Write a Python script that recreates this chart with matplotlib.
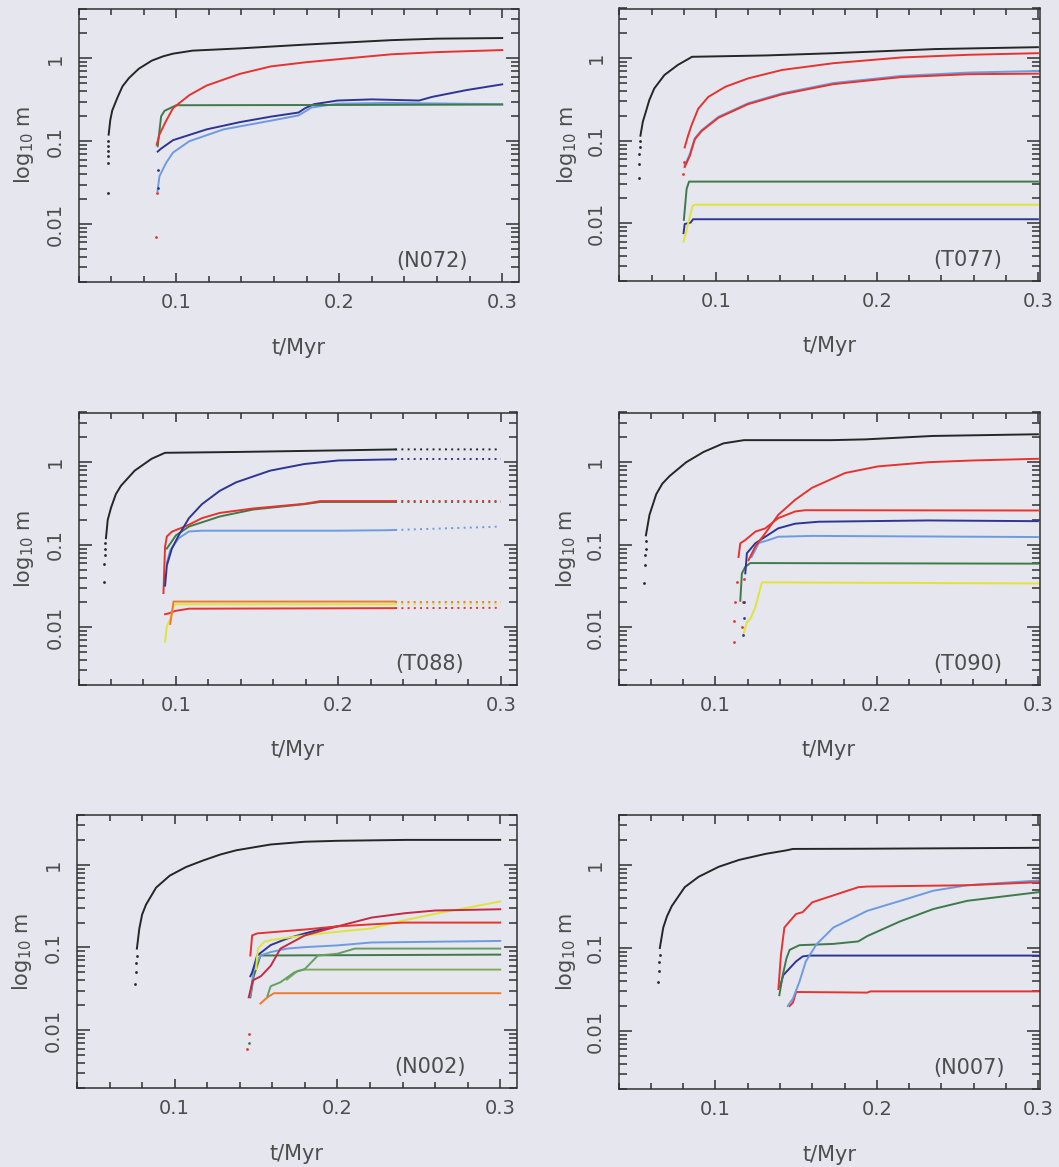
import numpy as np
import matplotlib
matplotlib.use("Agg")
import matplotlib.pyplot as plt
from matplotlib.ticker import FixedLocator, MultipleLocator, LogLocator, NullFormatter

# Fragment masses against time, (t [Myr], m) pairs for each curve.

# ---- N072 ----
n072_black_dots = [(0.0580, 0.024), (0.0582, 0.055), (0.0583, 0.066), (0.0583, 0.076),
                   (0.0584, 0.087), (0.0584, 0.10)]
n072_black = [(0.0585, 0.12), (0.0595, 0.18), (0.0607, 0.235), (0.064, 0.34), (0.067, 0.46),
              (0.071, 0.58), (0.077, 0.75), (0.085, 0.94), (0.092, 1.06), (0.098, 1.14),
              (0.11, 1.24), (0.139, 1.32), (0.18, 1.47), (0.232, 1.66), (0.26, 1.73),
              (0.30, 1.76)]
n072_red_dots = [(0.0875, 0.007), (0.088, 0.024)]
n072_red = [(0.088, 0.091), (0.0897, 0.121), (0.0938, 0.177), (0.098, 0.25), (0.1, 0.27),
            (0.108, 0.36), (0.1186, 0.47), (0.139, 0.65), (0.158, 0.80), (0.18, 0.9),
            (0.2, 0.98), (0.232, 1.12), (0.26, 1.19), (0.30, 1.26)]
n072_green = [(0.0886, 0.087), (0.0907, 0.20), (0.0928, 0.233), (0.1, 0.272), (0.2, 0.274),
              (0.30, 0.277)]
n072_navy_dots = [(0.0885, 0.027), (0.0885, 0.045)]
n072_navy = [(0.0886, 0.075), (0.0905, 0.081), (0.098, 0.103), (0.1186, 0.139), (0.139, 0.17),
             (0.158, 0.198), (0.175, 0.222), (0.179, 0.25), (0.1845, 0.28), (0.199, 0.31),
             (0.22, 0.32), (0.249, 0.31), (0.257, 0.343), (0.278, 0.414), (0.30, 0.486)]
n072_sky = [(0.0885, 0.025), (0.0897, 0.038), (0.0938, 0.055), (0.098, 0.073), (0.108, 0.10),
            (0.129, 0.139), (0.16, 0.18), (0.175, 0.205), (0.183, 0.255), (0.199, 0.284),
            (0.23, 0.29), (0.30, 0.28)]

# ---- T077 ----
t077_black_dots = [(0.052, 0.035), (0.052, 0.053), (0.0523, 0.07), (0.0525, 0.085),
                   (0.0527, 0.10)]
t077_black = [(0.053, 0.115), (0.0545, 0.17), (0.0563, 0.222), (0.0585, 0.31), (0.0616, 0.43),
              (0.0679, 0.625), (0.0763, 0.83), (0.0836, 1.0), (0.085, 1.04), (0.131, 1.08),
              (0.173, 1.15), (0.236, 1.29), (0.30, 1.36)]
t077_red_dots = [(0.0795, 0.04), (0.080, 0.055)]
t077_red = [(0.0805, 0.083), (0.0826, 0.115), (0.0847, 0.153), (0.0889, 0.244), (0.0952, 0.34),
            (0.1057, 0.45), (0.12, 0.57), (0.141, 0.72), (0.173, 0.87), (0.215, 1.02),
            (0.257, 1.1), (0.30, 1.15)]
t077_sky = [(0.0805, 0.05), (0.0836, 0.068), (0.0868, 0.107), (0.091, 0.134), (0.1015, 0.195),
            (0.12, 0.285), (0.141, 0.375), (0.173, 0.50), (0.215, 0.61), (0.257, 0.67),
            (0.30, 0.70)]
t077_red2 = [(0.0805, 0.048), (0.0836, 0.065), (0.0868, 0.104), (0.091, 0.131), (0.1015, 0.19),
             (0.12, 0.278), (0.141, 0.365), (0.173, 0.485), (0.215, 0.59), (0.257, 0.64),
             (0.30, 0.65)]
t077_green = [(0.080, 0.011), (0.0817, 0.026), (0.0832, 0.032), (0.30, 0.032)]
t077_yellow = [(0.0798, 0.006), (0.0812, 0.0076), (0.0832, 0.011), (0.0853, 0.016),
               (0.0868, 0.0168), (0.30, 0.0168)]
t077_navy = [(0.0798, 0.0076), (0.0805, 0.0098), (0.0842, 0.0102), (0.0857, 0.0112),
             (0.30, 0.0112)]

# ---- T088 ----
t088_black_dots = [(0.0558, 0.035), (0.0558, 0.059), (0.0562, 0.075), (0.0564, 0.09),
                   (0.0566, 0.105)]
t088_black = [(0.0569, 0.12), (0.058, 0.2), (0.060, 0.28), (0.063, 0.41), (0.0662, 0.52),
              (0.0746, 0.79), (0.085, 1.1), (0.0933, 1.3), (0.137, 1.33), (0.2, 1.39),
              (0.237, 1.43), (0.30, 1.43)]
t088_navy = [(0.0933, 0.032), (0.0944, 0.056), (0.0975, 0.09), (0.1017, 0.13), (0.108, 0.21),
             (0.116, 0.31), (0.127, 0.45), (0.137, 0.57), (0.158, 0.79), (0.179, 0.95),
             (0.2, 1.05), (0.231, 1.08), (0.30, 1.08)]
t088_red = [(0.0923, 0.026), (0.0933, 0.095), (0.0944, 0.126), (0.0975, 0.144), (0.104, 0.162),
            (0.108, 0.175), (0.116, 0.21), (0.127, 0.243), (0.1475, 0.275), (0.179, 0.313),
            (0.189, 0.338), (0.30, 0.338)]
t088_green = [(0.0944, 0.09), (0.1, 0.13), (0.108, 0.166), (0.127, 0.22), (0.1475, 0.267),
              (0.179, 0.31), (0.189, 0.33), (0.30, 0.33)]
t088_sky = [(0.0944, 0.06), (0.0965, 0.086), (0.1017, 0.12), (0.108, 0.145), (0.116, 0.148),
            (0.2, 0.148), (0.23, 0.15), (0.30, 0.166)]
t088_orange = [(0.0965, 0.011), (0.0985, 0.0205), (0.30, 0.0205)]
t088_yellow = [(0.0933, 0.0067), (0.0944, 0.0103), (0.0965, 0.0125), (0.0985, 0.018),
               (0.1, 0.019), (0.30, 0.019)]
t088_red2 = [(0.0933, 0.0144), (0.0954, 0.0147), (0.0996, 0.0158), (0.108, 0.0168),
             (0.30, 0.0172)]

# ---- T090 ----
t090_black_dots = [(0.056, 0.034), (0.0566, 0.057), (0.0567, 0.075), (0.0568, 0.09),
                   (0.0569, 0.11)]
t090_black = [(0.057, 0.13), (0.0592, 0.23), (0.0634, 0.41), (0.0672, 0.55), (0.0717, 0.68),
              (0.082, 1.0), (0.0927, 1.33), (0.105, 1.69), (0.1178, 1.85), (0.172, 1.85),
              (0.193, 1.89), (0.235, 2.08), (0.30, 2.18)]
t090_red_dots = [(0.1165, 0.010), (0.1172, 0.02), (0.118, 0.038)]
t090_red = [(0.1206, 0.065), (0.1248, 0.095), (0.131, 0.138), (0.139, 0.23), (0.1495, 0.35),
            (0.16, 0.49), (0.1805, 0.74), (0.201, 0.89), (0.232, 1.0), (0.26, 1.05),
            (0.30, 1.1)]
t090_red2_dots = [(0.1113, 0.0066), (0.1118, 0.012), (0.1125, 0.02), (0.1132, 0.035)]
t090_red2 = [(0.1144, 0.071), (0.1155, 0.104), (0.1186, 0.114), (0.1248, 0.144), (0.131, 0.158),
             (0.139, 0.21), (0.1495, 0.253), (0.1557, 0.262), (0.30, 0.26)]
t090_navy_dots = [(0.117, 0.008), (0.1175, 0.013), (0.118, 0.02)]
t090_navy = [(0.1186, 0.045), (0.1196, 0.079), (0.1248, 0.104), (0.131, 0.125), (0.139, 0.158),
             (0.1495, 0.18), (0.164, 0.19), (0.232, 0.197), (0.30, 0.193)]
t090_sky = [(0.1225, 0.071), (0.127, 0.105), (0.133, 0.114), (0.139, 0.125), (0.16, 0.128),
            (0.30, 0.124)]
t090_green = [(0.1155, 0.021), (0.1165, 0.045), (0.1186, 0.054), (0.1217, 0.06), (0.30, 0.059)]
t090_yellow = [(0.1175, 0.0083), (0.1196, 0.0115), (0.1217, 0.0126), (0.1248, 0.0175),
               (0.1289, 0.035), (0.30, 0.034)]

# ---- N002 ----
n002_black_dots = [(0.0758, 0.036), (0.0762, 0.05), (0.0764, 0.065), (0.0766, 0.08)]
n002_black = [(0.0768, 0.097), (0.0783, 0.17), (0.080, 0.25), (0.0824, 0.33), (0.0886, 0.53),
              (0.097, 0.74), (0.107, 0.94), (0.1176, 1.13), (0.128, 1.33), (0.138, 1.5),
              (0.159, 1.76), (0.18, 1.9), (0.2, 1.95), (0.242, 2.0), (0.30, 2.0)]
n002_red_dots = [(0.1445, 0.006), (0.1455, 0.009)]
n002_red = [(0.1465, 0.08), (0.1476, 0.14), (0.1507, 0.148), (0.18, 0.165), (0.2, 0.18),
            (0.22, 0.19), (0.24, 0.2), (0.30, 0.2)]
n002_crimson = [(0.1455, 0.025), (0.148, 0.04), (0.153, 0.045), (0.159, 0.06), (0.165, 0.097),
                (0.18, 0.14), (0.2, 0.18), (0.221, 0.23), (0.2417, 0.26), (0.26, 0.28),
                (0.30, 0.29)]
n002_yellow = [(0.150, 0.055), (0.1507, 0.08), (0.1512, 0.097), (0.153, 0.106), (0.155, 0.117),
               (0.159, 0.123), (0.18, 0.14), (0.2, 0.155), (0.221, 0.17), (0.2375, 0.206),
               (0.262, 0.26), (0.30, 0.36)]
n002_navy = [(0.1465, 0.045), (0.1476, 0.05), (0.1507, 0.08), (0.159, 0.107), (0.169, 0.128),
             (0.18, 0.148), (0.192, 0.17), (0.2, 0.18)]
n002_sky = [(0.1465, 0.026), (0.1486, 0.055), (0.1527, 0.08), (0.159, 0.088), (0.169, 0.097),
            (0.18, 0.101), (0.2, 0.106), (0.221, 0.115), (0.30, 0.12)]
n002_green_dots = [(0.1455, 0.007)]
n002_green = [(0.1465, 0.025), (0.1486, 0.045), (0.1527, 0.08), (0.30, 0.082)]
n002_green2 = [(0.157, 0.026), (0.159, 0.034), (0.165, 0.038), (0.1735, 0.05), (0.18, 0.055),
               (0.188, 0.08), (0.2, 0.084), (0.2107, 0.097), (0.30, 0.097)]
n002_olive = [(0.169, 0.041), (0.1755, 0.052), (0.18, 0.054), (0.30, 0.054)]
n002_orange = [(0.1527, 0.021), (0.157, 0.025), (0.161, 0.028), (0.30, 0.028)]

# ---- N007 ----
n007_black_dots = [(0.0646, 0.039), (0.065, 0.053), (0.0652, 0.068), (0.0654, 0.083)]
n007_black = [(0.0656, 0.1), (0.0677, 0.176), (0.070, 0.24), (0.073, 0.32), (0.081, 0.54),
              (0.0896, 0.72), (0.102, 0.95), (0.1146, 1.15), (0.131, 1.36), (0.144, 1.5),
              (0.148, 1.56), (0.194, 1.57), (0.30, 1.61)]
n007_red = [(0.139, 0.032), (0.1406, 0.083), (0.1427, 0.176), (0.146, 0.21), (0.15, 0.257),
            (0.154, 0.27), (0.16, 0.355), (0.173, 0.43), (0.1885, 0.54), (0.194, 0.55),
            (0.256, 0.57), (0.30, 0.62)]
n007_sky = [(0.1448, 0.02), (0.148, 0.0245), (0.152, 0.039), (0.156, 0.069), (0.1625, 0.11),
            (0.173, 0.176), (0.194, 0.28), (0.2146, 0.37), (0.235, 0.49), (0.256, 0.57),
            (0.30, 0.65)]
n007_green = [(0.1396, 0.027), (0.1417, 0.047), (0.144, 0.075), (0.146, 0.095), (0.152, 0.108),
              (0.173, 0.112), (0.1885, 0.12), (0.194, 0.139), (0.2146, 0.21), (0.235, 0.295),
              (0.256, 0.37), (0.30, 0.47)]
n007_navy = [(0.14, 0.034), (0.142, 0.047), (0.146, 0.057), (0.15, 0.069), (0.154, 0.079),
             (0.158, 0.081), (0.30, 0.081)]
n007_red2 = [(0.146, 0.02), (0.148, 0.022), (0.15, 0.0295), (0.194, 0.029), (0.196, 0.03),
             (0.30, 0.03)]

BLACK = "#262626"
RED = "#e5332f"
CRIMSON = "#c42a44"
GREEN = "#3f7a4a"
LGREEN = "#64a062"
OLIVE = "#86aa5c"
NAVY = "#2f3592"
SKY = "#6e9be0"
YELLOW = "#e0e43a"
ORANGE = "#f07a2a"
PAPER = "#e5e6ee"
INK = "#4d4d4d"
FRAME = "#303030"

# name, axes box in pixels (left, top, right, bottom), upper t limit, curves, loose points
PANELS = [
    ("(N072)", (78.5, 8.5, 518.5, 282), 0.31,
     [(n072_sky, SKY), (n072_navy, NAVY), (n072_green, GREEN), (n072_red, RED),
      (n072_black, BLACK)],
     [(n072_red_dots, RED), (n072_navy_dots, NAVY), (n072_black_dots, BLACK)]),
    ("(T077)", (619.5, 8.5, 1039.5, 281), 0.301,
     [(t077_navy, NAVY), (t077_yellow, YELLOW), (t077_green, GREEN), (t077_sky, SKY),
      (t077_red2, RED), (t077_red, RED), (t077_black, BLACK)],
     [(t077_red_dots, RED), (t077_black_dots, BLACK)]),
    ("(T088)", (78.5, 412.5, 517, 685), 0.31,
     [(t088_red2, RED), (t088_yellow, YELLOW), (t088_orange, ORANGE), (t088_sky, SKY),
      (t088_green, GREEN), (t088_red, RED), (t088_navy, NAVY), (t088_black, BLACK)],
     [(t088_black_dots, BLACK)]),
    ("(T090)", (618.5, 412.5, 1039.5, 685), 0.301,
     [(t090_yellow, YELLOW), (t090_green, GREEN), (t090_sky, SKY), (t090_navy, NAVY),
      (t090_red2, RED), (t090_red, RED), (t090_black, BLACK)],
     [(t090_red_dots, RED), (t090_red2_dots, RED), (t090_navy_dots, NAVY),
      (t090_black_dots, BLACK)]),
    ("(N002)", (77, 815, 516.5, 1088), 0.31,
     [(n002_orange, ORANGE), (n002_olive, OLIVE), (n002_green, GREEN), (n002_green2, LGREEN),
      (n002_sky, SKY), (n002_navy, NAVY), (n002_yellow, YELLOW), (n002_crimson, CRIMSON),
      (n002_red, RED), (n002_black, BLACK)],
     [(n002_red_dots, RED), (n002_green_dots, GREEN), (n002_black_dots, BLACK)]),
    ("(N007)", (618.5, 815, 1040, 1089), 0.301,
     [(n007_red2, RED), (n007_navy, NAVY), (n007_green, GREEN), (n007_sky, SKY),
      (n007_red, RED), (n007_black, BLACK)],
     [(n007_black_dots, BLACK)]),
]

# in T088 the output gets sparse after this time, so the tails are drawn dotted
T088_SPARSE = 0.235

W, H = 1059, 1167


def split_curve(t, m, t0):
    """Cut a curve at t0 (interpolating in log m) into a head and a tail."""
    m0 = 10 ** np.interp(t0, t, np.log10(m))
    head = t <= t0
    return (np.append(t[head], t0), np.append(m[head], m0),
            np.insert(t[~head], 0, t0), np.insert(m[~head], 0, m0))


def plot_panel(ax, name, tmax, curves, dots):
    ax.set_yscale("log")
    for pts, colour in curves:
        t, m = np.array(pts).T
        if name == "(T088)" and t[-1] > T088_SPARSE:
            t1, m1, t2, m2 = split_curve(t, m, T088_SPARSE)
            ax.plot(t1, m1, color=colour, lw=1.4, solid_joinstyle="round")
            ax.plot(t2, m2, color=colour, lw=1.4, ls=(0, (1, 2.2)))
        else:
            ax.plot(t, m, color=colour, lw=1.4, solid_joinstyle="round")
    for pts, colour in dots:
        t, m = np.array(pts).T
        ax.plot(t, m, ls="none", marker="o", ms=2.0, mew=0, color=colour)

    ax.set_xlim(0.04, tmax)
    ax.set_ylim(0.002, 4.0)
    ax.set_facecolor(PAPER)

    ax.xaxis.set_major_locator(FixedLocator([0.1, 0.2, 0.3]))
    ax.xaxis.set_minor_locator(MultipleLocator(0.02))
    ax.set_xticklabels(["0.1", "0.2", "0.3"])
    ax.yaxis.set_major_locator(FixedLocator([0.01, 0.1, 1.0]))
    ax.yaxis.set_minor_locator(LogLocator(base=10, subs=np.arange(2, 10), numticks=30))
    ax.yaxis.set_minor_formatter(NullFormatter())
    ax.set_yticklabels(["0.01", "0.1", "1"], rotation=90, va="center")

    ax.tick_params(which="both", direction="in", top=True, right=True,
                   color=FRAME, width=1.1, labelcolor=INK, labelsize=14)
    ax.tick_params(axis="x", which="major", length=6.5, pad=8)
    ax.tick_params(axis="x", which="minor", length=4)
    ax.tick_params(axis="y", which="major", length=9.5, pad=10)
    ax.tick_params(axis="y", which="minor", length=5.5)
    for sp in ax.spines.values():
        sp.set_color(FRAME)
        sp.set_linewidth(1.1)

    ax.set_xlabel("t/Myr", fontsize=15, color=INK, va="center")
    ax.xaxis.set_label_coords(0.5, -0.24)
    ax.set_ylabel(r"log$_{10}$ m", fontsize=15, color=INK, va="center")
    ax.yaxis.set_label_coords(-0.125, 0.5)
    ax.text(0.235, 0.0036, name, fontsize=15, color=INK, ha="left", va="center")


fig = plt.figure(figsize=(W / 100, H / 100), dpi=100)
fig.patch.set_facecolor(PAPER)

for name, (left, top, right, bottom), tmax, curves, dots in PANELS:
    ax = fig.add_axes([left / W, 1 - bottom / H, (right - left) / W, (bottom - top) / H])
    plot_panel(ax, name, tmax, curves, dots)

fig.savefig("out.png", dpi=100, facecolor=PAPER)
plt.close(fig)
